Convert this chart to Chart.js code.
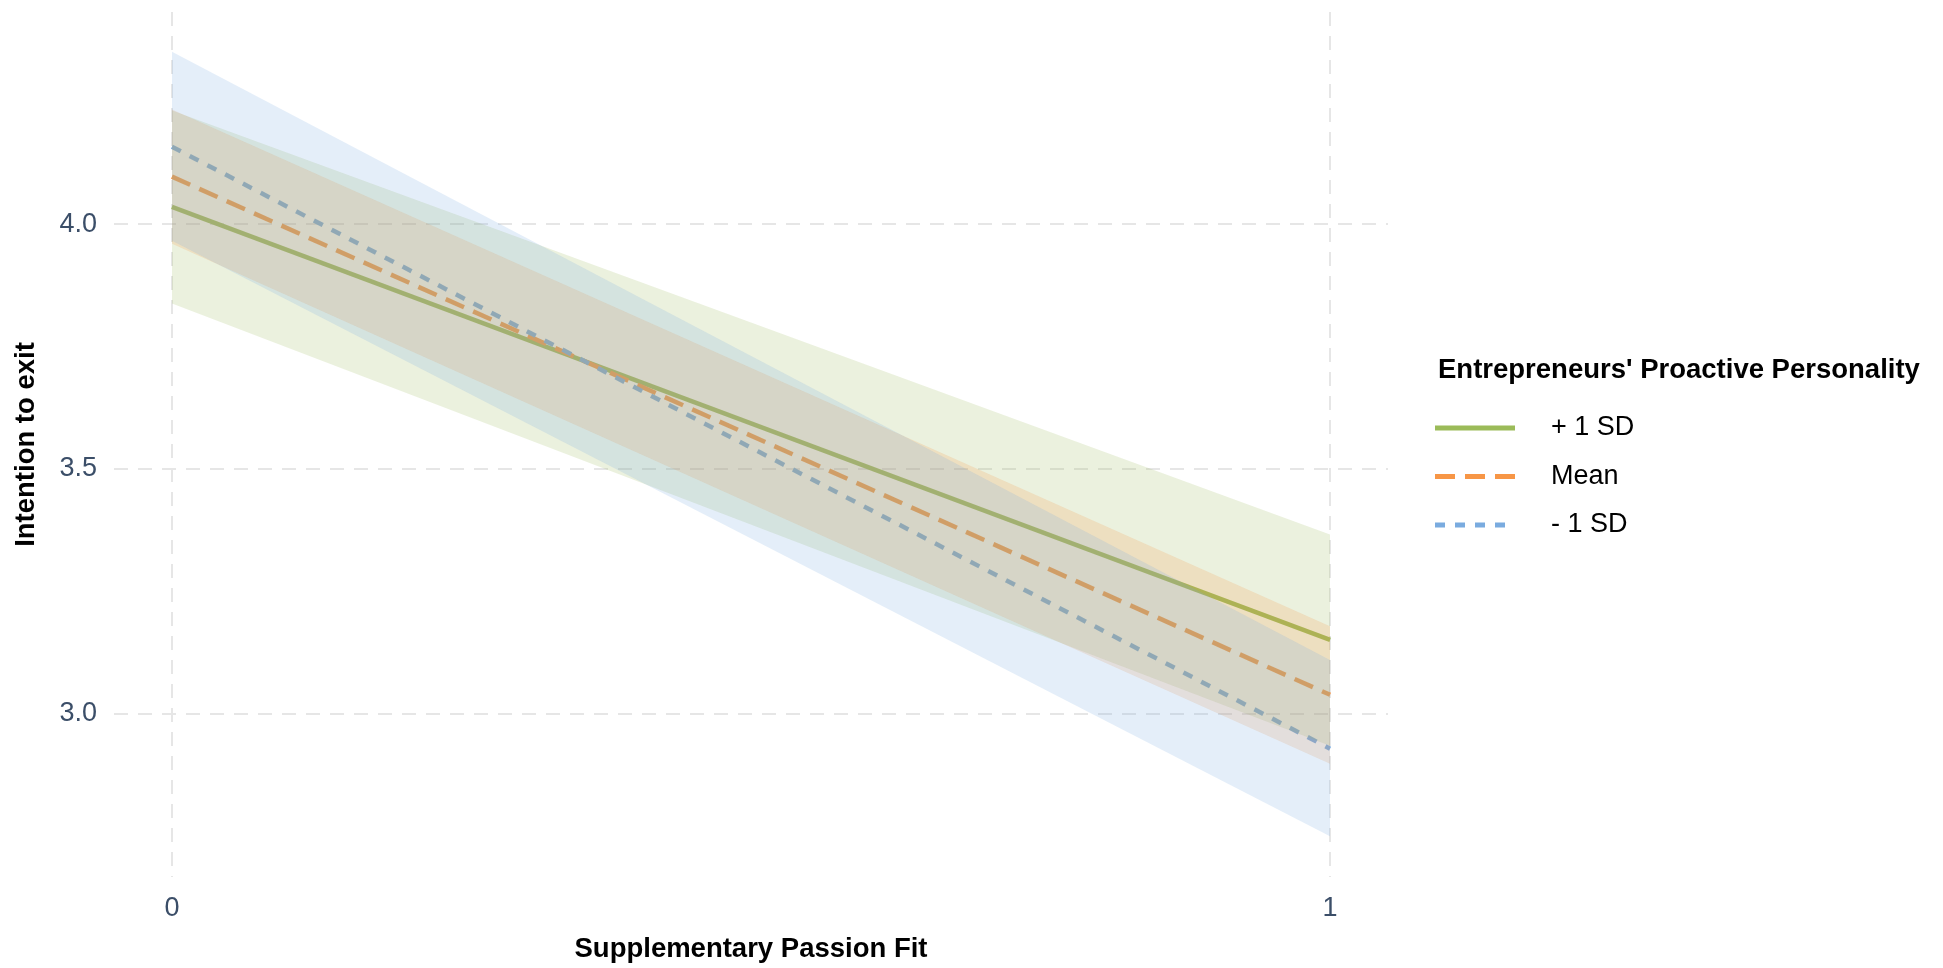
<!DOCTYPE html>
<html>
<head>
<meta charset="utf-8">
<title>Intention to exit by supplementary passion fit</title>
<script src="https://cdn.jsdelivr.net/npm/chart.js@4.4.1/dist/chart.umd.min.js"></script>
<style>
  html, body { margin: 0; padding: 0; background: #fff; }
  canvas { display: block; }
</style>
</head>
<body>
<canvas id="slopeChart" width="1943" height="968"></canvas>
<script>
// Simple slopes: predicted intention to exit at low / high supplementary passion fit
const xValues = [0, 1];
const xTicks = [0, 1];
const yTicks = [3.0, 3.5, 4.0];

const seriesNames = ['+ 1 SD', 'Mean', '- 1 SD'];

// fitted lines
const fitPlusSD = [4.035, 3.151];
const fitMean = [4.097, 3.039];
const fitMinusSD = [4.158, 2.929];

// confidence bands
const upperPlusSD = [4.232, 3.366];
const lowerPlusSD = [3.838, 2.935];
const upperMean = [4.234, 3.179];
const lowerMean = [3.960, 2.898];
const upperMinusSD = [4.352, 3.110];
const lowerMinusSD = [3.966, 2.750];

const lineColors = ['#9bbb59', '#f79646', '#7aabdf'];
const bandColors = ['rgba(155,187,89,0.2)', 'rgba(247,150,70,0.2)', 'rgba(122,171,223,0.2)'];
const lineDashes = [[], [20, 10], [10, 10]];

const legendTitle = "Entrepreneurs' Proactive Personality";
const fontFamily = '"Liberation Sans", Arial, Helvetica, sans-serif';
const tickColor = '#3b4e68';

function toPoints(values) {
    return xValues.map((x, i) => ({ x: x, y: values[i] }));
}

function bandPair(upper, lower, idx) {
    const common = {
        borderWidth: 0,
        borderColor: 'transparent',
        pointRadius: 0,
        order: 3 - idx
    };
    return [
        Object.assign({ data: toPoints(upper), fill: '+1', backgroundColor: bandColors[idx] }, common),
        Object.assign({ data: toPoints(lower), fill: false }, common)
    ];
}

function fitLine(values, idx) {
    return {
        label: seriesNames[idx],
        data: toPoints(values),
        borderColor: lineColors[idx],
        borderWidth: 4.5,
        borderDash: lineDashes[idx],
        borderCapStyle: 'butt',
        pointRadius: 0,
        fill: false,
        order: 13 - idx
    };
}

const datasets = [
    ...bandPair(upperPlusSD, lowerPlusSD, 0),
    ...bandPair(upperMean, lowerMean, 1),
    ...bandPair(upperMinusSD, lowerMinusSD, 2),
    fitLine(fitPlusSD, 0),
    fitLine(fitMean, 1),
    fitLine(fitMinusSD, 2)
];

// legend drawn to the right of the panel
const sideLegend = {
    id: 'sideLegend',
    afterDraw(chart) {
        const ctx = chart.ctx;
        const left = chart.chartArea.right + 47;
        ctx.save();
        ctx.textAlign = 'left';
        ctx.textBaseline = 'middle';
        ctx.fillStyle = '#000';
        ctx.font = 'bold 27.5px ' + fontFamily;
        ctx.fillText(legendTitle, left + 3, 370);
        seriesNames.forEach((name, i) => {
            const y = 428 + i * 48.5;
            ctx.strokeStyle = lineColors[i];
            ctx.lineWidth = 5;
            ctx.lineCap = 'butt';
            ctx.setLineDash(lineDashes[i]);
            ctx.beginPath();
            ctx.moveTo(left, y);
            ctx.lineTo(left + 80, y);
            ctx.stroke();
            ctx.setLineDash([]);
            ctx.font = '27px ' + fontFamily;
            ctx.fillText(name, left + 116, y);
        });
        ctx.restore();
    }
};

const ctx = document.getElementById('slopeChart').getContext('2d');
new Chart(ctx, {
    type: 'line',
    data: { datasets: datasets },
    plugins: [sideLegend],
    options: {
        responsive: false,
        animation: false,
        devicePixelRatio: 1,
        events: [],
        layout: { padding: { top: 12, right: 555, bottom: 0, left: 0 } },
        plugins: {
            legend: { display: false },
            tooltip: { enabled: false }
        },
        scales: {
            x: {
                type: 'linear',
                min: -0.05,
                max: 1.05,
                afterBuildTicks: (scale) => { scale.ticks = xTicks.map(v => ({ value: v })); },
                afterFit: (scale) => {
                    scale.height = 91;
                    scale.paddingLeft = 0;
                    scale.paddingRight = 0;
                },
                ticks: {
                    color: tickColor,
                    font: { family: fontFamily, size: 27 },
                    padding: 15,
                    maxRotation: 0,
                    callback: (v) => String(v)
                },
                grid: { color: '#e6e6e6', lineWidth: 2, drawTicks: false },
                border: { display: false, dash: [14, 10] },
                title: {
                    display: true,
                    text: 'Supplementary Passion Fit',
                    color: '#000',
                    font: { family: fontFamily, size: 27.5, weight: 'bold' },
                    padding: { top: 0, bottom: 2 }
                }
            },
            y: {
                type: 'linear',
                min: 2.667,
                max: 4.433,
                afterBuildTicks: (scale) => { scale.ticks = yTicks.map(v => ({ value: v })); },
                afterFit: (scale) => {
                    scale.width = 114;
                    scale.paddingTop = 0;
                    scale.paddingBottom = 0;
                },
                ticks: {
                    color: tickColor,
                    font: { family: fontFamily, size: 27 },
                    padding: 17,
                    callback: (v) => v.toFixed(1)
                },
                grid: { color: '#e6e6e6', lineWidth: 2, drawTicks: false },
                border: { display: false, dash: [14, 10] },
                title: {
                    display: true,
                    text: 'Intention to exit',
                    color: '#000',
                    font: { family: fontFamily, size: 27.5, weight: 'bold' },
                    padding: { top: 10, bottom: 0 }
                }
            }
        }
    }
});
</script>
</body>
</html>
